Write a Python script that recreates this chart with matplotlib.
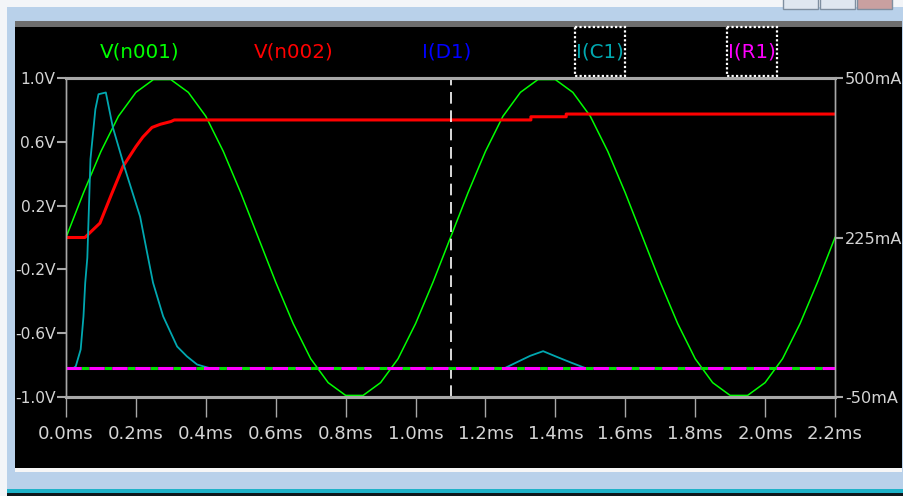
import matplotlib
matplotlib.use("Agg")
import matplotlib.pyplot as plt
from matplotlib import font_manager
from matplotlib.font_manager import FontProperties
from matplotlib.textpath import TextPath
from matplotlib.patches import Rectangle

# narrowest family that is actually installed
font_name = "DejaVu Sans"
for cand in ["Liberation Sans Narrow", "DejaVu Sans Condensed"]:
    try:
        font_manager.findfont(FontProperties(family=cand), fallback_to_default=False)
        font_name = cand
        break
    except Exception:
        pass
plt.rcParams['font.family'] = [font_name, 'DejaVu Sans']

# --- data (time in ms) ---
t_n001 = [0.00, 0.05, 0.10, 0.15, 0.20, 0.25, 0.30, 0.35, 0.40, 0.45, 0.50,
          0.55, 0.60, 0.65, 0.70, 0.75, 0.80, 0.85, 0.90, 0.95, 1.00, 1.05,
          1.10, 1.15, 1.20, 1.25, 1.30, 1.35, 1.40, 1.45, 1.50, 1.55, 1.60,
          1.65, 1.70, 1.75, 1.80, 1.85, 1.90, 1.95, 2.00, 2.05, 2.10, 2.15, 2.20]
v_n001 = [0.00, 0.28, 0.54, 0.76, 0.91, 0.99, 0.99, 0.91, 0.76, 0.54, 0.28,
          0.00, -0.28, -0.54, -0.76, -0.91, -0.99, -0.99, -0.91, -0.76, -0.54, -0.28,
          0.00, 0.28, 0.54, 0.76, 0.91, 0.99, 0.99, 0.91, 0.76, 0.54, 0.28,
          0.00, -0.28, -0.54, -0.76, -0.91, -0.99, -0.99, -0.91, -0.76, -0.54, -0.28, 0.00]

t_n002 = [0.00, 0.054, 0.097, 0.130, 0.163, 0.20, 0.22, 0.246, 0.27, 0.30, 0.31,
          1.33, 1.33, 1.431, 1.431, 2.20]
v_n002 = [0.00, 0.00, 0.09, 0.27, 0.445, 0.57, 0.63, 0.69, 0.71, 0.727, 0.737,
          0.737, 0.757, 0.757, 0.774, 0.774]

t_c1 = [0.00, 0.022, 0.028, 0.042, 0.050, 0.055, 0.061, 0.070, 0.084, 0.093,
        0.114, 0.134, 0.169, 0.212, 0.232, 0.249, 0.278, 0.318, 0.346, 0.375,
        0.392, 0.41, 1.256, 1.29, 1.328, 1.365, 1.405, 1.442, 1.485, 2.20]
i_c1 = [0, 0, 3, 32, 89, 147, 190, 360, 446, 472,
        475, 415, 343, 261, 199, 147, 89, 37, 20, 6,
        3, 0, 0, 10, 21, 29, 19, 10, 0, 0]   # mA

t_r1 = [0.00, 2.20]
i_r1 = [0, 0]   # mA, I(D1)/I(R1) sit on the zero line

cursor_t = 1.1

x_ticks = [0.0, 0.2, 0.4, 0.6, 0.8, 1.0, 1.2, 1.4, 1.6, 1.8, 2.0, 2.2]
x_labels = ["0.0ms", "0.2ms", "0.4ms", "0.6ms", "0.8ms", "1.0ms",
            "1.2ms", "1.4ms", "1.6ms", "1.8ms", "2.0ms", "2.2ms"]
yl_ticks = [-1.0, -0.6, -0.2, 0.2, 0.6, 1.0]
yl_labels = ["-1.0V", "-0.6V", "-0.2V", "0.2V", "0.6V", "1.0V"]
yr_ticks = [-50, 225, 500]
yr_labels = ["-50mA", "225mA", "500mA"]

trace_names = ["V(n001)", "V(n002)", "I(D1)", "I(C1)", "I(R1)"]
trace_colors = ["#00ff00", "#ff0000", "#0000ff", "#00a8b0", "#ff00ff"]
boxed = [False, False, False, True, True]

W, H = 904, 496
grey = "#a8a8a8"
txt = "#d4d4d4"


def text_px(s, size):
    # width in pixels of string s at a given size (pt), 100 dpi
    w = TextPath((0, 0), s, size=100, prop=FontProperties(family=font_name)).get_extents().width
    return w * size / 100 * 100 / 72


def fit_size(s, target_px, cap):
    return min(cap, 10 * target_px / text_px(s, 10))


xs = fit_size("0.0ms", 54, 17)
yls = fit_size("-0.2V", 40, 16)
yrs = fit_size("500mA", 56, 16)
ns = fit_size("V(n001)", 78, 22)

fig = plt.figure(figsize=(W / 100, H / 100), dpi=100)
fig.patch.set_facecolor("#b9d1ea")

# window chrome, in pixel coords
bg = fig.add_axes([0, 0, 1, 1], zorder=-5)
bg.set_xlim(0, W)
bg.set_ylim(H, 0)
bg.axis("off")
bg.add_patch(Rectangle((0, 0), W, 7, color="#f3f5f8", lw=0))
bg.add_patch(Rectangle((0, 0), 7, H, color="#f3f5f8", lw=0))
for x0, fc in [(783, "#dfe7f0"), (820, "#dfe7f0"), (857, "#c9a0a0")]:
    bg.add_patch(Rectangle((x0, -4), 35, 13, facecolor=fc, edgecolor="#7f8fa0", lw=1))
bg.add_patch(Rectangle((15, 21), 887, 7, color="#6e6e6e", lw=0))
bg.add_patch(Rectangle((15, 27), 887, 441, color="black", lw=0))
bg.add_patch(Rectangle((15, 468), 887, 4, color="#f6f6f6", lw=0))
bg.add_patch(Rectangle((7, 489), W, 4, color="#1fb2c8", lw=0))
bg.add_patch(Rectangle((7, 493), W, 3, color="#10181c", lw=0))

ax = fig.add_axes([66 / W, 1 - 397 / H, (835 - 66) / W, (397 - 78) / H])
ax.set_facecolor("none")
ax2 = ax.twinx()

ax.plot(t_n001, v_n001, color=trace_colors[0], lw=1.1)
ax.plot(t_n002, v_n002, color=trace_colors[1], lw=2.2)
ax.axvline(cursor_t, color="white", lw=1.2, dashes=(7, 4))

ax2.plot(t_c1, i_c1, color=trace_colors[3], lw=1.3)
ax2.plot(t_r1, i_r1, color=trace_colors[4], lw=2.2, dashes=(5, 2.5),
         gapcolor="#00e000")

ax.set_xlim(0, 2.2)
ax.set_ylim(-1.0, 1.0)
ax2.set_ylim(-50, 500)

ax.set_xticks(x_ticks, x_labels)
ax.set_yticks(yl_ticks, yl_labels)
ax2.set_yticks(yr_ticks, yr_labels)

for a in (ax, ax2):
    for s in a.spines.values():
        s.set_color(grey)
    a.spines["top"].set_linewidth(2.2)
    a.spines["bottom"].set_linewidth(2.2)
    a.spines["left"].set_linewidth(1.0)
    a.spines["right"].set_linewidth(1.0)

ax.tick_params(axis="x", direction="out", length=14.4, width=1, color=grey,
               labelcolor=txt, labelsize=xs, pad=6)
ax.tick_params(axis="y", direction="out", length=6.5, width=1.5, color=grey,
               labelcolor=txt, labelsize=yls, pad=1)
ax2.tick_params(axis="y", direction="out", length=5.8, width=1.5, color=grey,
                labelcolor=txt, labelsize=yrs, pad=1.5)

# trace names along the top, dotted selection box round I(C1) and I(R1)
name_x = [140, 294, 447, 600, 752]
for name, col, xp, bx in zip(trace_names, trace_colors, name_x, boxed):
    fig.text(xp / W, 1 - 52 / H, name, color=col, fontsize=ns,
             ha="center", va="center")
    if bx:
        bw = text_px(name, ns) + 6
        bg.add_patch(Rectangle((xp - bw / 2, 27), bw, 49, fill=False,
                               edgecolor="white", lw=1.6, linestyle=(0, (1, 1))))

fig.savefig("out.png", dpi=100, facecolor=fig.get_facecolor())
